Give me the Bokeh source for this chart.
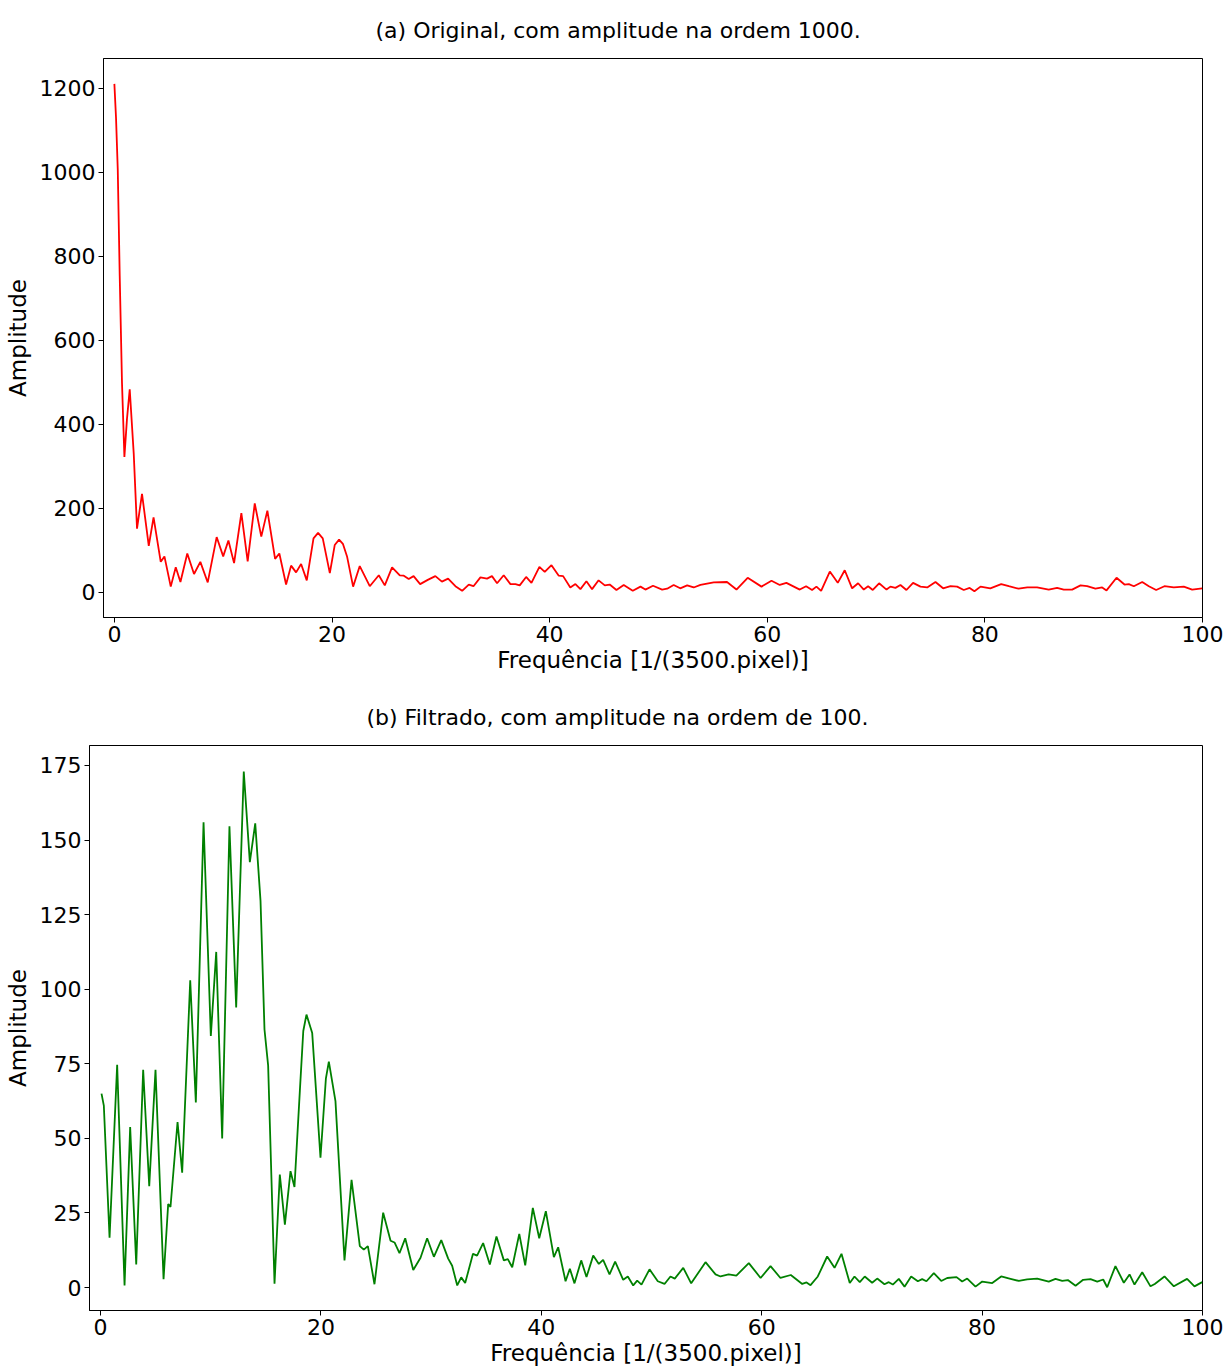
from bokeh.plotting import figure
from bokeh.layouts import column
from bokeh.models import FixedTicker
from bokeh.embed import file_html
from bokeh.resources import INLINE

# ---------------- data ----------------
freq_a = [
    0.0, 0.15, 0.31, 0.49, 0.70, 0.92, 1.16, 1.41, 1.78, 2.08,
    2.54, 3.16, 3.6, 4.26, 4.6, 5.18, 5.64, 6.07, 6.7, 7.32,
    7.9, 8.58, 9.4, 10.0, 10.48, 11.0, 11.67, 12.25, 12.9, 13.5,
    14.06, 14.77, 15.16, 15.78, 16.24, 16.7, 17.16, 17.68, 18.3, 18.72,
    19.15, 19.8, 20.25, 20.65, 21.0, 21.39, 21.94, 22.55, 23.47, 24.3,
    24.85, 25.52, 26.23, 26.6, 27.05, 27.5, 28.1, 28.8, 29.5, 30.1,
    30.67, 31.34, 31.96, 32.57, 33.0, 33.64, 34.25, 34.7, 35.17, 35.78,
    36.4, 36.86, 37.25, 37.84, 38.33, 39.06, 39.55, 40.17, 40.84, 41.24,
    41.9, 42.37, 42.83, 43.38, 43.9, 44.5, 45.07, 45.52, 46.14, 46.81,
    47.64, 48.35, 48.8, 49.5, 50.34, 50.8, 51.4, 52.0, 52.64, 53.24,
    53.86, 55.08, 56.3, 57.17, 58.2, 59.47, 60.39, 61.15, 61.76, 62.99,
    63.57, 64.12, 64.52, 64.95, 65.75, 66.48, 67.12, 67.8, 68.35, 68.87,
    69.27, 69.7, 70.28, 70.96, 71.32, 71.78, 72.24, 72.79, 73.4, 74.08,
    74.7, 75.46, 76.16, 76.84, 77.45, 78.06, 78.6, 79.04, 79.6, 80.5,
    81.5, 82.2, 83.1, 83.9, 84.8, 85.87, 86.64, 87.25, 88.02, 88.79,
    89.4, 90.16, 90.78, 91.18, 92.1, 92.83, 93.23, 93.69, 94.46, 95.07,
    95.74, 96.5, 97.36, 98.28, 99.05, 99.97,
]
amp_a = [
    1210, 1130, 1007, 753, 498, 322, 413, 483, 329, 151,
    234, 110, 178, 72, 85, 13, 59, 24, 92, 43,
    72, 23, 131, 85, 123, 69, 188, 73, 211, 132,
    194, 79, 92, 18, 63, 47, 67, 28, 128, 141,
    128, 45, 112, 125, 115, 84, 13, 62, 14, 40,
    16, 59, 40, 39, 31, 38, 19, 29, 38, 25,
    32, 14, 3, 18, 14, 35, 32, 38, 21, 40,
    19, 19, 16, 36, 22, 60, 48, 64, 39, 38,
    11, 19, 7, 26, 7, 28, 16, 18, 5, 17,
    3, 13, 6, 15, 6, 8, 17, 9, 16, 11,
    17, 23, 24, 6, 34, 13, 27, 17, 22, 6,
    14, 5, 13, 3, 49, 22, 52, 9, 21, 6,
    14, 5, 21, 6, 13, 10, 17, 5, 22, 13,
    11, 24, 9, 14, 13, 5, 10, 2, 13, 9,
    19, 14, 8, 11, 11, 6, 10, 6, 6, 16,
    14, 8, 11, 4, 34, 18, 19, 14, 24, 14,
    5, 14, 11, 13, 6, 9,
]

freq_b = [
    0.09, 0.3, 0.82, 1.51, 2.18, 2.69, 3.24, 3.87, 4.42, 4.99,
    5.72, 6.14, 6.35, 6.99, 7.41, 8.14, 8.65, 9.35, 10.01, 10.5,
    11.04, 11.7, 12.31, 13.0, 13.55, 14.04, 14.52, 14.88, 15.21, 15.79,
    16.27, 16.73, 17.24, 17.6, 18.09, 18.4, 18.69, 19.21, 19.96, 20.45,
    20.72, 21.32, 22.14, 22.78, 23.53, 23.89, 24.26, 24.86, 25.65, 26.32,
    26.68, 27.13, 27.65, 28.38, 29.04, 29.64, 30.25, 30.92, 31.55, 31.91,
    32.37, 32.73, 33.09, 33.8, 34.17, 34.72, 35.33, 35.93, 36.6, 36.96,
    37.36, 38.0, 38.54, 39.23, 39.81, 40.41, 41.14, 41.53, 42.2, 42.59,
    43.01, 43.62, 44.1, 44.71, 45.22, 45.61, 46.19, 46.7, 47.43, 47.85,
    48.34, 48.7, 49.09, 49.82, 50.57, 51.18, 51.72, 52.11, 52.88, 53.6,
    54.9, 55.81, 56.26, 57.0, 57.7, 58.83, 59.9, 60.8, 61.7, 62.64,
    63.68, 64.07, 64.43, 65.09, 65.94, 66.61, 67.24, 67.99, 68.42, 68.9,
    69.35, 70.02, 70.48, 71.14, 71.53, 71.9, 72.44, 72.96, 73.56, 74.17,
    74.56, 74.95, 75.62, 76.29, 76.83, 77.68, 78.19, 78.65, 79.4, 80.01,
    80.92, 81.73, 82.58, 83.33, 84.09, 85.0, 86.05, 86.66, 87.27, 87.78,
    88.48, 89.17, 89.84, 90.45, 90.99, 91.35, 92.1, 92.86, 93.38, 93.83,
    94.53, 95.28, 95.67, 96.55, 97.4, 98.6, 99.27, 99.97,
]
amp_b = [
    65, 61, 16.7, 74.7, 0.7, 53.8, 7.7, 73, 34, 73,
    2.8, 28, 27, 55.5, 38.5, 103, 62, 156, 84.3, 112.5,
    50, 154.6, 93.9, 173, 142.6, 155.6, 129.6, 86.5, 74.5, 1.3,
    37.9, 21.1, 39, 33.7, 66, 86, 91.5, 85.3, 43.5, 70,
    75.7, 62.5, 9.1, 36.1, 13.9, 12.7, 13.9, 1.1, 25.1, 15.7,
    15.1, 11.5, 16.5, 5.9, 10, 16.5, 10.3, 15.9, 9.7, 7.3,
    0.7, 3.4, 1.5, 11.3, 10.7, 14.9, 7.7, 17.1, 9.1, 9.5,
    6.8, 18, 7.4, 26.7, 16.5, 25.6, 10.2, 13.5, 2.1, 6.3,
    1.4, 9.1, 3.5, 10.7, 7.9, 9.3, 4.4, 8.7, 2.6, 3.7,
    0.7, 2.3, 1.0, 6.1, 2.1, 1.2, 3.7, 3.0, 6.6, 1.4,
    8.5, 4.4, 3.7, 4.4, 4.0, 8.2, 3.2, 7.2, 3.2, 4.2,
    1.2, 1.7, 0.8, 3.7, 10.4, 6.6, 11.3, 1.5, 3.7, 1.8,
    3.7, 1.6, 3.0, 1.1, 1.8, 1.0, 2.9, 0.3, 3.7, 2.1,
    2.8, 2.1, 4.8, 2.2, 3.2, 3.5, 2.0, 3.0, 0.3, 2.0,
    1.5, 3.7, 2.9, 2.2, 2.7, 3.0, 2.0, 2.9, 2.2, 2.5,
    0.6, 2.6, 2.8, 2.0, 2.7, 0.1, 7.2, 1.6, 4.4, 1.0,
    5.1, 0.4, 1.2, 3.7, 0.4, 2.9, 0.4, 1.8,
]

x_ticks = [0, 20, 40, 60, 80, 100]
y_ticks_a = [0, 200, 400, 600, 800, 1000, 1200]
y_ticks_b = [0, 25, 50, 75, 100, 125, 150, 175]

title_a = "(a) Original, com amplitude na ordem 1000."
title_b = "(b) Filtrado, com amplitude na ordem de 100."
x_label = "Frequência [1/(3500.pixel)]"
y_label = "Amplitude"

FONT = "DejaVu Sans"


def make_fig(title, height, border_left, border_top, border_bottom, y_rng, y_ticks, title_shift):
    p = figure(
        width=1224, height=height, output_backend="svg", toolbar_location=None,
        x_range=(-1, 100), y_range=y_rng, title=title,
        min_border_left=border_left, min_border_right=22,
        min_border_top=border_top, min_border_bottom=border_bottom,
    )
    p.frame_align = False
    p.title.align = "left"
    p.title.offset = title_shift
    p.title.text_font = FONT
    p.title.text_font_size = "22px"
    p.title.text_font_style = "normal"
    p.title.text_color = "black"
    p.title.standoff = 31
    p.xgrid.visible = False
    p.ygrid.visible = False
    p.outline_line_color = "black"
    p.outline_line_width = 1
    p.outline_line_alpha = 1
    p.xaxis.ticker = FixedTicker(ticks=x_ticks)
    p.yaxis.ticker = FixedTicker(ticks=y_ticks)
    for ax in (p.xaxis, p.yaxis):
        ax.axis_line_color = "black"
        ax.major_tick_line_color = "black"
        ax.major_tick_out = 5
        ax.major_tick_in = 0
        ax.minor_tick_line_color = None
        ax.major_label_text_font = FONT
        ax.major_label_text_font_size = "22px"
        ax.major_label_text_color = "black"
        ax.axis_label_text_font = FONT
        ax.axis_label_text_font_size = "23px"
        ax.axis_label_text_font_style = "normal"
        ax.axis_label_text_color = "black"
    p.xaxis.axis_label = x_label
    p.yaxis.axis_label = y_label
    p.xaxis.major_label_standoff = 3
    p.yaxis.major_label_standoff = 3
    p.xaxis.axis_label_standoff = 2
    p.yaxis.axis_label_standoff = 6
    return p


p1 = make_fig(title_a, 680, 103, 57, 63, (-60.5, 1270.5), y_ticks_a, 272)
p1.line(freq_a, amp_a, line_color="#ff0000", line_width=1.8)

p2 = make_fig(title_b, 688, 89, 65, 58, (-7.7, 181.7), y_ticks_b, 277)
p2.line(freq_b, amp_b, line_color="#008000", line_width=1.8)

layout = column(p1, p2, spacing=0)
open("out.html", "w").write(file_html(layout, INLINE))
